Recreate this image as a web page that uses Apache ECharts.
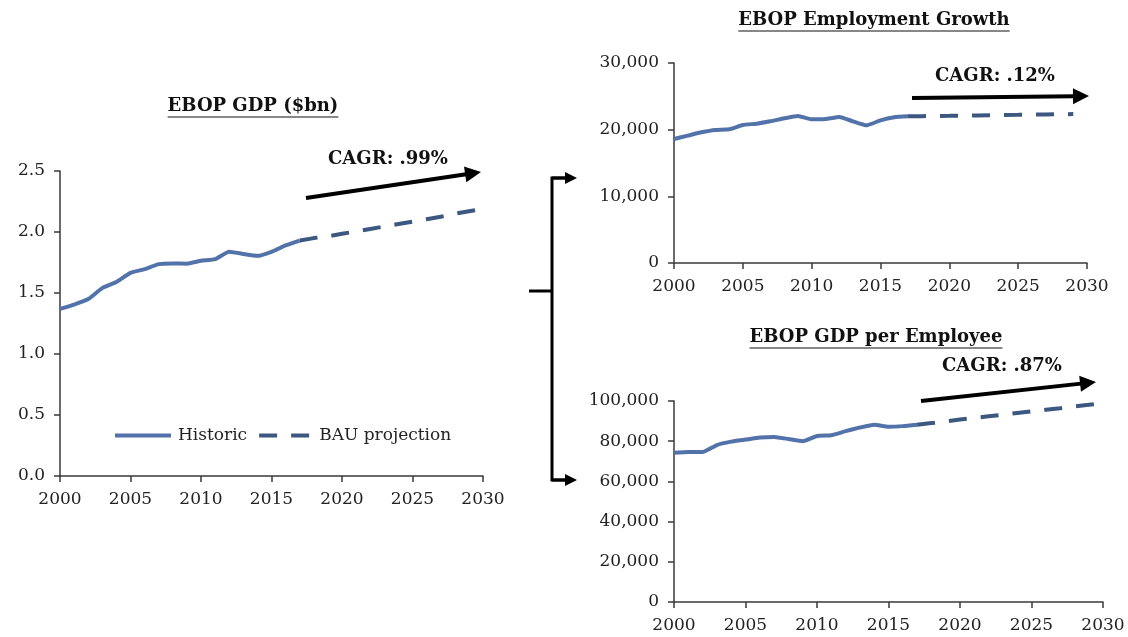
<!DOCTYPE html>
<html>
<head>
<meta charset="utf-8">
<script src="https://cdn.jsdelivr.net/npm/echarts@6/dist/echarts.min.js"></script>
<style>
  html, body { margin: 0; padding: 0; background: #fff; }
  #chart { width: 1128px; height: 637px; }
</style>
</head>
<body>
<div id="chart"></div>
<script>
// Years
const histYears = [2000, 2001, 2002, 2003, 2004, 2005, 2006, 2007, 2008, 2009, 2010, 2011, 2012, 2013, 2014, 2015, 2016, 2017];
const projYears = [2017, 2018, 2019, 2020, 2021, 2022, 2023, 2024, 2025, 2026, 2027, 2028, 2029, 2030];
const projYearsEmp = [2017, 2018, 2019, 2020, 2021, 2022, 2023, 2024, 2025, 2026, 2027, 2028, 2029];

// EBOP GDP ($bn)
const gdpHist = [1.37, 1.405, 1.45, 1.54, 1.59, 1.665, 1.695, 1.737, 1.742, 1.74, 1.764, 1.778, 1.838, 1.82, 1.805, 1.838, 1.89, 1.93];
const gdpProj = [1.93, 1.95, 1.965, 1.985, 2.005, 2.025, 2.045, 2.065, 2.085, 2.105, 2.125, 2.15, 2.17, 2.19];

// EBOP employment
const empHist = [18600, 19100, 19600, 19950, 20050, 20700, 20900, 21250, 21700, 22050, 21550, 21600, 21900, 21250, 20650, 21400, 21850, 22000];
const empProj = [22000, 22030, 22060, 22080, 22110, 22140, 22170, 22200, 22220, 22250, 22280, 22310, 22340];

// EBOP GDP per employee
const gpeHist = [74300, 74600, 74600, 78100, 79800, 80800, 81800, 82100, 81100, 80000, 82600, 83000, 85000, 86800, 88200, 87200, 87500, 88200];
const gpeProj = [88200, 89000, 89900, 90800, 91600, 92400, 93200, 94000, 94800, 95600, 96400, 97300, 98100, 99000];

// Titles and growth labels
const titles = ['EBOP GDP ($bn)', 'EBOP Employment Growth', 'EBOP GDP per Employee'];
const cagrLabels = ['CAGR: .99%', 'CAGR: .12%', 'CAGR: .87%'];
const seriesNames = ['Historic', 'BAU projection'];

const FONT = '"DejaVu Serif", "Liberation Serif", serif';
const histColor = '#5273a9';
const projColor = '#3c5880';
const axisColor = '#3a3a3a';
const DASH = [18, 14];

const pairs = (xs, ys) => xs.map((x, i) => [x, ys[i]]);
const thousands = v => String(v).replace(/\B(?=(\d{3})+(?!\d))/g, ',');

function xAxis(gridIndex) {
  return {
    type: 'value', gridIndex, min: 2000, max: 2030, interval: 5,
    axisLine: { show: true, lineStyle: { color: axisColor, width: 1.5 } },
    axisTick: { show: true, length: 6, lineStyle: { color: axisColor, width: 1.5 } },
    axisLabel: { color: '#222', fontFamily: FONT, fontSize: 17, margin: 15, formatter: v => String(v) },
    splitLine: { show: false }
  };
}
function yAxis(gridIndex, max, interval, fmt) {
  return {
    type: 'value', gridIndex, min: 0, max, interval,
    axisLine: { show: true, lineStyle: { color: axisColor, width: 1.5 } },
    axisTick: { show: true, length: 6, lineStyle: { color: axisColor, width: 1.5 } },
    axisLabel: { color: '#222', fontFamily: FONT, fontSize: 17, margin: 15, formatter: fmt },
    splitLine: { show: false }
  };
}
function histSeries(i, data) {
  return {
    name: seriesNames[0], type: 'line', xAxisIndex: i, yAxisIndex: i,
    data, symbol: 'none', smooth: 0.15, z: 3,
    lineStyle: { color: histColor, width: 4 }, itemStyle: { color: histColor }
  };
}
function projSeries(i, data) {
  return {
    name: seriesNames[1], type: 'line', xAxisIndex: i, yAxisIndex: i,
    data, symbol: 'none', z: 2,
    lineStyle: { color: projColor, width: 4, type: DASH }, itemStyle: { color: projColor }
  };
}

// Underlined bold title centred at (cx, cy)
const measureCtx = document.createElement('canvas').getContext('2d');
function titleGraphic(text, cx, cy) {
  const font = 'bold 18px ' + FONT;
  measureCtx.font = font;
  const w = measureCtx.measureText(text).width;
  return [
    { type: 'text', x: cx, y: cy, style: { text, font, fill: '#111', textAlign: 'center', textVerticalAlign: 'middle' } },
    { type: 'line', shape: { x1: cx - w / 2, y1: cy + 11, x2: cx + w / 2, y2: cy + 11 }, style: { stroke: '#111', lineWidth: 1.2 } }
  ];
}
function labelGraphic(text, cx, cy) {
  return { type: 'text', x: cx, y: cy, style: { text, font: 'bold 18px ' + FONT, fill: '#111', textAlign: 'center', textVerticalAlign: 'middle' } };
}
// Straight arrow with a triangular head
function arrowGraphic(x1, y1, x2, y2, width, headLen, headHalf) {
  const a = Math.atan2(y2 - y1, x2 - x1);
  const bx = x2 - headLen * Math.cos(a), by = y2 - headLen * Math.sin(a);
  const px = -Math.sin(a) * headHalf, py = Math.cos(a) * headHalf;
  return [
    { type: 'line', shape: { x1, y1, x2: bx + Math.cos(a), y2: by + Math.sin(a) }, style: { stroke: '#000', lineWidth: width } },
    { type: 'polygon', shape: { points: [[x2, y2], [bx + px, by + py], [bx - px, by - py]] }, style: { fill: '#000' } }
  ];
}

const graphics = [].concat(
  titleGraphic(titles[0], 253, 106),
  titleGraphic(titles[1], 874, 20),
  titleGraphic(titles[2], 876, 337),
  [labelGraphic(cagrLabels[0], 388, 159), labelGraphic(cagrLabels[1], 995, 76), labelGraphic(cagrLabels[2], 1002, 366)],
  arrowGraphic(306, 198, 481, 172, 4, 16, 8),
  arrowGraphic(912, 98, 1089, 96, 4, 16, 8),
  arrowGraphic(921, 401, 1096, 382, 4, 16, 8),
  // bracket linking the GDP chart to its two components
  [
    { type: 'polyline', shape: { points: [[566, 178], [552, 178], [552, 480], [566, 480]] }, style: { stroke: '#000', lineWidth: 3, fill: null } },
    { type: 'line', shape: { x1: 529, y1: 291, x2: 552, y2: 291 }, style: { stroke: '#000', lineWidth: 3 } }
  ],
  arrowGraphic(552, 178, 577, 178, 3, 12, 6),
  arrowGraphic(552, 480, 577, 480, 3, 12, 6)
);

const chart = echarts.init(document.getElementById('chart'), null, { renderer: 'canvas' });
chart.setOption({
  animation: false,
  backgroundColor: '#fff',
  grid: [
    { left: 60, top: 171, width: 423, height: 305 },
    { left: 674, top: 63, width: 413, height: 200 },
    { left: 674, top: 401, width: 429, height: 201 }
  ],
  xAxis: [xAxis(0), xAxis(1), xAxis(2)],
  yAxis: [
    yAxis(0, 2.5, 0.5, v => v.toFixed(1)),
    yAxis(1, 30000, 10000, thousands),
    yAxis(2, 100000, 20000, thousands)
  ],
  legend: {
    left: 110, top: 422, itemWidth: 56, itemHeight: 4, itemGap: 12,
    selectedMode: false,
    data: [
      { name: seriesNames[0], icon: 'rect', itemStyle: { color: histColor } },
      { name: seriesNames[1], icon: 'path://M0,0h18v4h-18z M32,0h18v4h-18z', itemStyle: { color: projColor } }
    ],
    textStyle: { fontFamily: FONT, fontSize: 17, color: '#222', padding: [0, 0, 0, 2] }
  },
  series: [
    histSeries(0, pairs(histYears, gdpHist)),
    projSeries(0, pairs(projYears, gdpProj)),
    histSeries(1, pairs(histYears, empHist)),
    projSeries(1, pairs(projYearsEmp, empProj)),
    histSeries(2, pairs(histYears, gpeHist)),
    projSeries(2, pairs(projYears, gpeProj))
  ],
  graphic: graphics
});
</script>
</body>
</html>
